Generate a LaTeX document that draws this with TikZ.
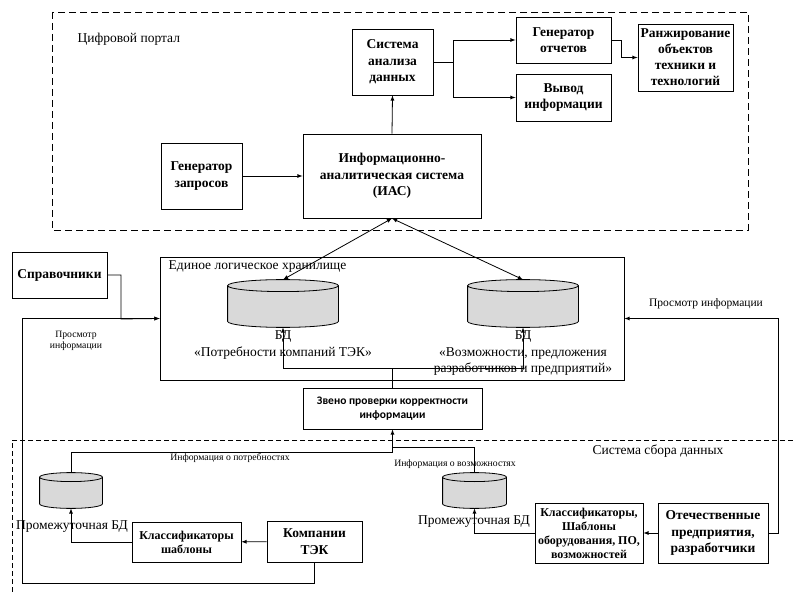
\documentclass[tikz,border=0pt]{standalone}
\usepackage{fontspec}
\setmainfont{Liberation Serif}
\newfontfamily\zvenofont{Carlito}
\usetikzlibrary{arrows,positioning,calc}

\tikzset{
  box/.style={draw,fill=white,align=center,inner sep=1pt,
    font=\bfseries\fontsize{13.5}{16.5}\selectfont},
  smallbox/.style={box,font=\bfseries\fontsize{12}{14}\selectfont},
  bd/.style={inner sep=0pt},
  lbl/.style={align=center,font=\fontsize{13.5}{16.5}\selectfont},
  note/.style={align=center,font=\fontsize{9.7}{11.5}\selectfont},
  portal/.style={dash pattern=on 7pt off 4pt},
  sbor/.style={dash pattern=on 5pt off 3pt}
}
% цилиндр БД по якорям узла
\newcommand{\drawbd}[2]{%
  \draw[fill=gray!30] let \p1=(#1.west), \p2=(#1.east), \p3=(#1.north), \p4=(#1.south),
    \n1={(\x2-\x1)/2} in
    (\x1,\y3-#2pt) -- (\x1,\y4+#2pt)
    arc[start angle=180,end angle=360,x radius=\n1,y radius=#2pt]
    -- (\x2,\y3-#2pt)
    arc[start angle=0,end angle=180,x radius=\n1,y radius=#2pt] -- cycle
    (\x1,\y3-#2pt) arc[start angle=180,end angle=360,x radius=\n1,y radius=#2pt];
}

\begin{document}
\begin{tikzpicture}[x=1pt,y=-1pt,>=latex,line width=0.8pt]
  \useasboundingbox (0,0) rectangle (793,596);

  % цифровой портал
  \draw[portal] (52,12) rectangle (748,230);
  \node[anchor=west,lbl] (portalname) at (74,39) {Цифровой портал};

  \node[box,minimum width=81,minimum height=66] (analiz) at (392.5,62) {Система\\анализа\\данных};
  \node[box,minimum width=81,minimum height=66] (genzap) at (201.5,176) {Генератор\\запросов};
  \node[box,minimum width=178,minimum height=84] (ias) at (392,176) {Информационно-\\аналитическая система\\(ИАС)};
  \node[box,minimum width=95,minimum height=46] (genotch) at (563.5,40) {Генератор\\отчетов};
  \node[box,minimum width=95,minimum height=47] (vyvod) at (563.5,97.5) {Вывод\\информации};
  \node[box,font=\bfseries\fontsize{13.5}{16}\selectfont,minimum width=95,minimum height=67] (ranzh) at (685.5,57.5) {Ранжирование\\объектов\\техники и\\технологий};

  \draw[->] (genzap) -- (ias);
  \draw[->] (ias.north) -- (analiz.south);
  \coordinate (split) at (453,62);
  \draw (analiz.east) -- (split);
  \draw[->] (split) |- (genotch.west);
  \draw[->] (split) |- (vyvod.west);
  \draw[->] (genotch.east) -- ++(10,0) |- (ranzh.west);

  % хранилище
  \node[draw,minimum width=464,minimum height=123] (hran) at (392,318.5) {};
  \node[anchor=west,lbl] (hranname) at (165,267) {Единое логическое хранилище};
  \node[bd,minimum width=110,minimum height=47] (bd1) at (283,303.5) {};
  \node[bd,minimum width=110,minimum height=47] (bd2) at (523,303.5) {};
  \drawbd{bd1}{6}
  \drawbd{bd2}{6}
  \node[lbl,below=0pt of bd1] (bd1name) {БД\\«Потребности компаний ТЭК»};
  \node[lbl,below=0pt of bd2] (bd2name) {БД\\«Возможности, предложения\\разработчиков и предприятий»};

  \draw[<->] (ias.south) -- (bd1.north);
  \draw[<->] (ias.south) -- (bd2.north);

  \node[box,minimum width=95,minimum height=46] (sprav) at (59.5,275) {Справочники};
  \coordinate (spravturn) at (121,319);
  \draw[->] (sprav.east) -| (spravturn) -- (hran.west);
  \node[note] (prosmotr1) at (76,341) {Просмотр\\информации};

  \node[note,font=\fontsize{11.5}{13}\selectfont] (prosmotr2) at (706,304) {Просмотр информации};

  % звено проверки
  \node[draw,fill=white,align=center,minimum width=179,minimum height=41,
    font=\zvenofont\bfseries\fontsize{11.5}{14}\selectfont] (zveno) at (392.5,408.5)
    {Звено проверки корректности\\информации};
  \coordinate (jtop) at (392.5,368);
  \draw (zveno.north) -- (jtop);
  \draw[->] (jtop) -| (bd1.south);
  \draw[->] (jtop) -| (bd2.south);

  % система сбора данных
  \draw[sbor] (793,440) -- (12,440) -- (12,594);
  \node[lbl] (sborname) at (658,451) {Система сбора данных};

  \node[bd,minimum width=62,minimum height=35] (bd3) at (71,490.5) {};
  \node[bd,minimum width=63,minimum height=35] (bd4) at (474.5,490.5) {};
  \drawbd{bd3}{4.5}
  \drawbd{bd4}{4.5}
  \node[lbl] (bd3name) at (72,527) {Промежуточная БД};
  \node[lbl] (bd4name) at (474,522) {Промежуточная БД};

  \node[smallbox,minimum width=109,minimum height=40] (klass1) at (186.5,542) {Классификаторы\\шаблоны};
  \node[box,minimum width=95,minimum height=41] (komp) at (314.5,541.5) {Компании\\ТЭК};
  \node[smallbox,minimum width=108,minimum height=60] (klass2) at (589,533) {Классификаторы,\\Шаблоны\\оборудования, ПО,\\возможностей};
  \node[box,minimum width=110,minimum height=60] (otech) at (713,533) {Отечественные\\предприятия,\\разработчики};

  \draw[->] (komp) -- (klass1);
  \draw[->] (klass1.west) -| (bd3.south);
  \draw[->] (otech) -- (klass2);
  \draw[->] (klass2.west) -| (bd4.south);

  \coordinate (jleft) at (392.5,452);
  \coordinate (jright) at (392.5,447);
  \draw[->] (bd3.north) |- (jleft) -- (zveno.south);
  \draw (bd4.north) |- (jright);
  \node[note] (infopotr) at (230,458) {Информация о потребностях};
  \node[note] (infovozm) at (455,464) {Информация о возможностях};

  \coordinate (leftlow) at (22,583);
  \draw[->] (komp.south) |- (leftlow) |- (hran.west);
  \draw[->] (otech.east) -- ++(10,0) |- (hran.east);
\end{tikzpicture}
\end{document}
